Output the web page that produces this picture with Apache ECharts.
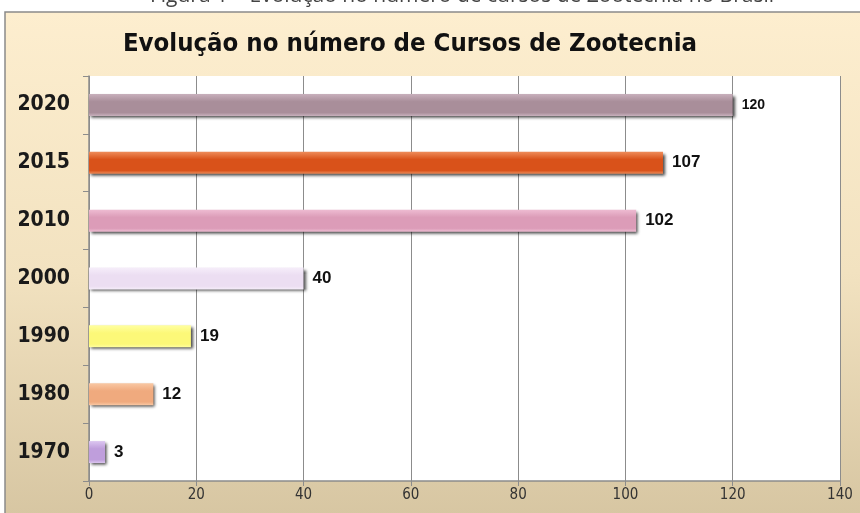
<!DOCTYPE html>
<html>
<head>
<meta charset="utf-8">
<script src="https://cdn.jsdelivr.net/npm/echarts@6/dist/echarts.min.js"></script>
<style>
  html, body { margin: 0; padding: 0; background: #fff; }
  #container { width: 860px; height: 513px; }
</style>
</head>
<body>
<div id="container"></div>
<script>
// dados do gráfico
var anos = ['1970', '1980', '1990', '2000', '2010', '2015', '2020'];
var cursos = [3, 12, 19, 40, 102, 107, 120];
// cor de cada barra (claro, escuro) para o efeito de cilindro
var coresClaras = ['#dcc6f0', '#f9c8a4', '#ffffa0', '#f6eefa', '#eebcd2', '#ee8c5a', '#c8b0bc'];
var coresEscuras = ['#bf9edc', '#f0aa7e', '#fcf878', '#ecdef2', '#dc9cb8', '#d9521a', '#a98e9a'];
var eixoX = [0, 20, 40, 60, 80, 100, 120, 140];

var myChart = echarts.init(document.getElementById('container'));

var dados = cursos.map(function (v, i) {
    return {
        value: v,
        itemStyle: {
            color: new echarts.graphic.LinearGradient(0, 0, 0, 1, [
                {offset: 0, color: coresClaras[i]},
                {offset: 0.35, color: coresEscuras[i]},
                {offset: 0.85, color: coresEscuras[i]},
                {offset: 1, color: coresClaras[i]}
            ])
        },
        label: {fontSize: v === 120 ? 14 : 17}
    };
});

var option = {
    animation: false,
    graphic: [
        {
            type: 'rect',
            z: -10,
            shape: {x: 5, y: 12, width: 900, height: 520},
            style: {
                fill: new echarts.graphic.LinearGradient(0, 0, 0, 1, [
                    {offset: 0, color: '#fdeecf'},
                    {offset: 0.5, color: '#f2e2c0'},
                    {offset: 1, color: '#d5c4a0'}
                ]),
                stroke: '#8a8a8a',
                lineWidth: 1.5
            }
        },
        {
            type: 'text',
            style: {
                text: 'Figura 1 – Evolução no número de cursos de Zootecnia no Brasil',
                x: 462, y: 6.5,
                align: 'center',
                verticalAlign: 'bottom',
                font: '21px "Open Sans", sans-serif',
                fill: '#444'
            }
        }
    ],
    title: {
        text: 'Evolução no número de Cursos de Zootecnia',
        left: 405,
        top: 26,
        textAlign: 'center',
        textStyle: {
            fontFamily: '"DejaVu Sans Condensed", "DejaVu Sans", sans-serif',
            fontWeight: 'bold',
            fontSize: 25.5,
            color: '#111'
        }
    },
    grid: {
        left: 89,
        right: 20,
        top: 76,
        bottom: 32,
        show: true,
        backgroundColor: '#ffffff',
        borderWidth: 0
    },
    xAxis: {
        type: 'value',
        min: 0,
        max: 140,
        interval: 20,
        axisLine: {show: true, lineStyle: {color: '#8c8c8c', width: 1.5}},
        axisTick: {show: true, length: 5, lineStyle: {color: '#8c8c8c'}},
        splitLine: {show: true, lineStyle: {color: '#8c8c8c', width: 1}},
        axisLabel: {
            margin: 7,
            fontSize: 15,
            color: '#333',
            fontFamily: '"DejaVu Sans Condensed", "DejaVu Sans", sans-serif',
            formatter: function (v) { return eixoX.indexOf(v) >= 0 ? String(v) : ''; }
        }
    },
    yAxis: {
        type: 'category',
        data: anos,
        axisLine: {show: true, lineStyle: {color: '#8c8c8c', width: 1.5}},
        axisTick: {show: true, length: 6, lineStyle: {color: '#8c8c8c'}},
        axisLabel: {
            margin: 19,
            fontSize: 21,
            fontWeight: 'bold',
            color: '#1a1a1a',
            fontFamily: '"DejaVu Sans Condensed", "DejaVu Sans", sans-serif'
        }
    },
    series: [{
        type: 'bar',
        barWidth: '38%',
        data: dados,
        itemStyle: {
            shadowColor: 'rgba(0,0,0,0.75)',
            shadowBlur: 3,
            shadowOffsetX: 2,
            shadowOffsetY: 2
        },
        label: {
            show: true,
            position: 'right',
            distance: 9,
            color: '#111',
            fontWeight: 'bold',
            fontFamily: '"Liberation Sans", Arial, sans-serif'
        }
    }]
};

myChart.setOption(option, true);

window.onresize = function () {
    myChart.resize();
};
</script>
</body>
</html>
